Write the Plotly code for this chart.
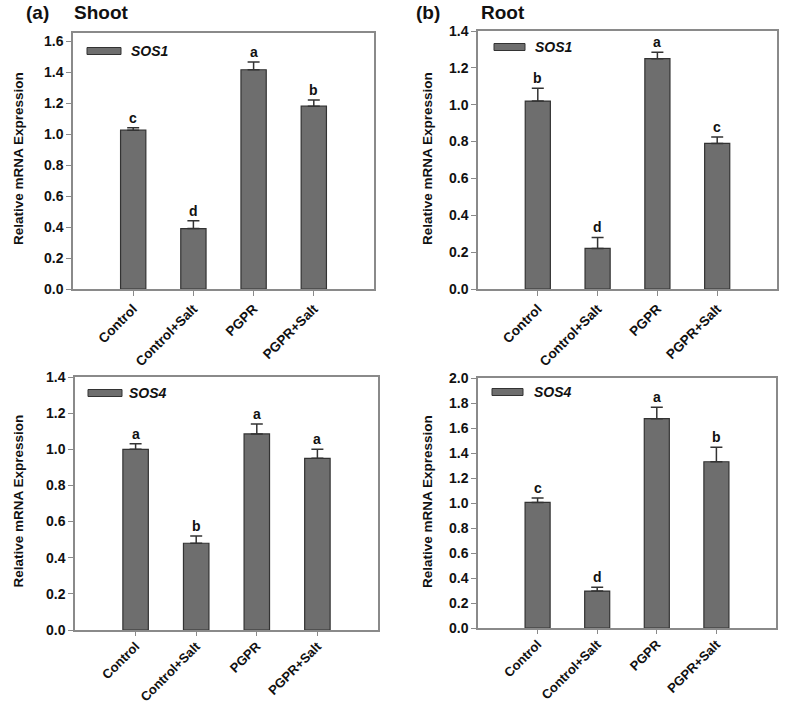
import plotly.graph_objects as go

W, H = 787, 705

categories = ["Control", "Control+Salt", "PGPR", "PGPR+Salt"]

shoot_sos1 = [1.025, 0.39, 1.415, 1.18]
shoot_sos1_err = [0.015, 0.05, 0.05, 0.04]
shoot_sos1_letters = ["c", "d", "a", "b"]

root_sos1 = [1.02, 0.22, 1.25, 0.79]
root_sos1_err = [0.07, 0.06, 0.035, 0.035]
root_sos1_letters = ["b", "d", "a", "c"]

shoot_sos4 = [1.0, 0.48, 1.085, 0.95]
shoot_sos4_err = [0.03, 0.04, 0.055, 0.05]
shoot_sos4_letters = ["a", "b", "a", "a"]

root_sos4 = [1.005, 0.295, 1.675, 1.33]
root_sos4_err = [0.035, 0.03, 0.09, 0.115]
root_sos4_letters = ["c", "d", "a", "b"]

y_tick_vals_16 = [0.0, 0.2, 0.4, 0.6, 0.8, 1.0, 1.2, 1.4, 1.6]
y_tick_vals_14 = [0.0, 0.2, 0.4, 0.6, 0.8, 1.0, 1.2, 1.4]
y_tick_vals_20 = [0.0, 0.2, 0.4, 0.6, 0.8, 1.0, 1.2, 1.4, 1.6, 1.8, 2.0]


def px_x(p):
    return p / W


def px_y(p):
    return 1 - p / H


panels = [
    dict(ax="", l=73, r=374, t=33, b=289, yr=[0, 1.652], ticks=y_tick_vals_16,
         vals=shoot_sos1, err=shoot_sos1_err, letters=shoot_sos1_letters, gene="SOS1",
         leg=(87, 121, 51, 129), ytitle_x=18, xfs=13.5, tl=5, so=0),
    dict(ax="2", l=478, r=777, t=31, b=289, yr=[0, 1.4], ticks=y_tick_vals_14,
         vals=root_sos1, err=root_sos1_err, letters=root_sos1_letters, gene="SOS1",
         leg=(494, 525, 47, 533), ytitle_x=427, xfs=13.5, tl=5, so=0),
    dict(ax="3", l=75, r=378, t=377, b=630, yr=[0, 1.4], ticks=y_tick_vals_14,
         vals=shoot_sos4, err=shoot_sos4_err, letters=shoot_sos4_letters, gene="SOS4",
         leg=(88, 122, 393, 127), ytitle_x=18, xfs=13, tl=4, so=-2),
    dict(ax="4", l=478, r=776, t=378, b=628, yr=[0, 2.0], ticks=y_tick_vals_20,
         vals=root_sos4, err=root_sos4_err, letters=root_sos4_letters, gene="SOS4",
         leg=(492, 523, 392, 532), ytitle_x=427, xfs=13, tl=4, so=-2),
]

fig = go.Figure()
annotations = []
shapes = []
layout = {}

FONT = "Liberation Sans, Arial, sans-serif"
AX_COLOR = "#8a8a8a"

for p in panels:
    xa = "x" + p["ax"]
    ya = "y" + p["ax"]
    fig.add_trace(go.Bar(
        x=list(range(len(categories))),
        y=p["vals"],
        xaxis=xa, yaxis=ya,
        width=0.42,
        marker=dict(color="#6e6e6e", line=dict(color="#333333", width=1.2)),
        error_y=dict(type="data", array=p["err"], arrayminus=[0] * 4,
                     symmetric=False, color="#333333", thickness=1.5, width=6),
        showlegend=False,
    ))
    xkey = "xaxis" + p["ax"]
    ykey = "yaxis" + p["ax"]
    layout[xkey] = dict(
        domain=[px_x(p["l"]), px_x(p["r"])], anchor=ya, automargin=False,
        range=[-1, 4], tickmode="array", tickvals=list(range(4)), ticktext=categories,
        tickangle=-45, ticks="outside", ticklen=p["tl"], tickcolor=AX_COLOR,
        ticklabelstandoff=p["so"],
        showline=True, linecolor=AX_COLOR, linewidth=1.5, mirror=True,
        showgrid=False, zeroline=False,
        tickfont=dict(family=FONT, size=p["xfs"], color="#111111", weight="bold"),
    )
    layout[ykey] = dict(
        domain=[px_y(p["b"]), px_y(p["t"])], anchor=xa, automargin=False,
        range=p["yr"], tickmode="array", tickvals=p["ticks"],
        ticktext=["%.1f" % v for v in p["ticks"]],
        ticks="outside", ticklen=5, tickcolor=AX_COLOR,
        showline=True, linecolor=AX_COLOR, linewidth=1.5, mirror=True,
        showgrid=False, zeroline=False,
        tickfont=dict(family=FONT, size=14, color="#111111", weight="bold"),
    )
    for i, (v, e, lt) in enumerate(zip(p["vals"], p["err"], p["letters"])):
        annotations.append(dict(
            x=i, y=v + e, xref=xa, yref=ya, text="<b>%s</b>" % lt, showarrow=False,
            yanchor="bottom", yshift=0,
            font=dict(family=FONT, size=14, color="#111111"),
        ))
    l0, l1, ly, tx = p["leg"]
    shapes.append(dict(type="rect", xref="paper", yref="paper",
                       x0=px_x(l0), x1=px_x(l1), y0=px_y(ly + 3.5), y1=px_y(ly - 3.5),
                       fillcolor="#6e6e6e", line=dict(color="#333333", width=1)))
    annotations.append(dict(
        x=px_x(tx), y=px_y(ly), xref="paper", yref="paper",
        text="<b><i>%s</i></b>" % p["gene"], showarrow=False,
        xanchor="left", yanchor="middle",
        font=dict(family=FONT, size=14, color="#111111"),
    ))
    annotations.append(dict(
        x=px_x(p["ytitle_x"]), y=px_y((p["t"] + p["b"]) / 2 - 2), xref="paper", yref="paper",
        text="<b>Relative mRNA Expression</b>", showarrow=False, textangle=-90,
        xanchor="center", yanchor="middle",
        font=dict(family=FONT, size=13.5, color="#111111"),
    ))

for txt, xpx in [("(a)", 24), ("Shoot", 72), ("(b)", 414), ("Root", 479)]:
    annotations.append(dict(
        x=px_x(xpx), y=px_y(12), xref="paper", yref="paper",
        text="<b>%s</b>" % txt, showarrow=False, xanchor="left", yanchor="middle",
        font=dict(family=FONT, size=19, color="#111111"),
    ))

fig.update_layout(
    width=W, height=H,
    margin=dict(l=0, r=0, t=0, b=0),
    paper_bgcolor="white", plot_bgcolor="white",
    annotations=annotations, shapes=shapes,
    bargap=0.5,
    **layout,
)

# remove the browser's default body margin so the figure fills the page exactly
fig.write_html("out.html",
               config={"displayModeBar": False},
               post_script="document.body.style.margin='0';document.body.style.overflow='hidden';")
